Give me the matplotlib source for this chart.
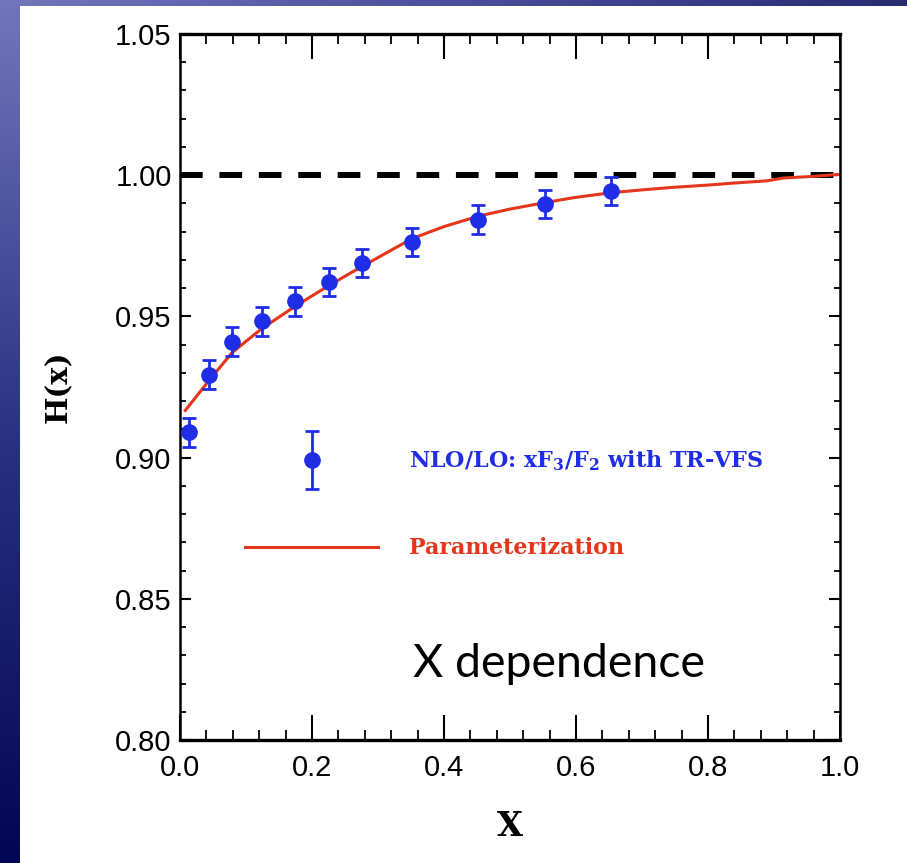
import matplotlib
matplotlib.use("Agg")
import matplotlib.pyplot as plt
import numpy as np
from matplotlib import font_manager
from matplotlib.colors import LinearSegmentedColormap
from matplotlib.container import ErrorbarContainer
from matplotlib.legend_handler import HandlerErrorbar
from matplotlib.lines import Line2D

# data
x_pts = [0.014, 0.044, 0.079, 0.124, 0.174, 0.226, 0.276, 0.351, 0.452, 0.553, 0.653]
h_pts = [0.9089, 0.9294, 0.9411, 0.9482, 0.9553, 0.9621, 0.9688, 0.9763, 0.9843, 0.9897, 0.9943]
h_err = [0.005, 0.005, 0.005, 0.005, 0.005, 0.005, 0.005, 0.005, 0.005, 0.005, 0.005]

x_par = [0.008, 0.044, 0.079, 0.124, 0.174, 0.226, 0.276, 0.351, 0.40, 0.452, 0.50,
         0.553, 0.598, 0.653, 0.70, 0.747, 0.80, 0.838, 0.889, 0.914, 0.96, 1.0]
h_par = [0.9167, 0.9273, 0.9372, 0.9457, 0.9535, 0.961, 0.9677, 0.9775, 0.9818, 0.9855, 0.988,
         0.9903, 0.9921, 0.9938, 0.9948, 0.9957, 0.9965, 0.9972, 0.998, 0.999, 0.9996, 1.0003]

x_ticks = [0.0, 0.2, 0.4, 0.6, 0.8, 1.0]
y_ticks = [0.80, 0.85, 0.90, 0.95, 1.00, 1.05]

BLUE = "#1f2de6"
RED = "#e5361c"

names = {f.name for f in font_manager.fontManager.ttflist}
tick_family = ["Liberation Sans Narrow"] if "Liberation Sans Narrow" in names else ["Liberation Sans"]
tick_size = 24 if "Liberation Sans Narrow" in names else 21

W, H = 907, 863
fig = plt.figure(figsize=(W / 100, H / 100), dpi=100)
fig.patch.set_facecolor("white")

# slide background strips
left_cmap = LinearSegmentedColormap.from_list("l", ["#7276bb", "#2b3283", "#020552"])
top_cmap = LinearSegmentedColormap.from_list("t", ["#7276bb", "#4a4f9c", "#262c70"])
grad = np.linspace(0, 1, 256)
axl = fig.add_axes([0, 0, 20 / W, 1])
axl.imshow(grad[:, None], aspect="auto", cmap=left_cmap)
axl.set_axis_off()
axt = fig.add_axes([0, 1 - 6 / H, 1, 6 / H])
axt.imshow(grad[None, :], aspect="auto", cmap=top_cmap)
axt.set_axis_off()

ax = fig.add_axes([180 / W, 1 - 740 / H, 660 / W, 706 / H])

ax.axhline(1.0, color="black", lw=4.3, dashes=(3.8, 2.8), zorder=1)
ax.plot(x_par, h_par, color=RED, lw=2.2, zorder=2, label="Parameterization")
eb = ax.errorbar(x_pts, h_pts, yerr=h_err, fmt="o", color=BLUE, ms=11, capsize=5,
                 elinewidth=2, capthick=2, zorder=3,
                 label=r"NLO/LO: xF$_\mathbf{3}$/F$_\mathbf{2}$ with TR-VFS")

ax.set_xlim(0, 1.0)
ax.set_ylim(0.80, 1.05)
ax.set_xticks(x_ticks)
ax.set_yticks(y_ticks)
ax.set_xticks(np.arange(0, 1.0001, 0.04), minor=True)
ax.set_yticks(np.arange(0.80, 1.0501, 0.01), minor=True)
ax.set_xticklabels([f"{v:.1f}" for v in x_ticks], family=tick_family, fontsize=tick_size)
ax.set_yticklabels([f"{v:.2f}" for v in y_ticks], family=tick_family, fontsize=tick_size)
ax.tick_params(axis="both", which="both", direction="in", top=True, right=True, color="black")
ax.tick_params(axis="x", which="major", length=18, width=1.5, pad=10)
ax.tick_params(axis="x", which="minor", length=7, width=1.3)
ax.tick_params(axis="y", which="major", length=8, width=1.5, pad=6)
ax.tick_params(axis="y", which="minor", length=4, width=1.3)
for s in ["top", "bottom"]:
    ax.spines[s].set_linewidth(2.4)
for s in ["left", "right"]:
    ax.spines[s].set_linewidth(1.8)

ax.set_xlabel("X", family="DejaVu Serif", fontweight="bold", fontsize=24, labelpad=20)
ax.set_ylabel("H(x)", family="DejaVu Serif", fontweight="bold", fontsize=21, labelpad=30)

plt.rcParams["mathtext.fontset"] = "dejavuserif"
line_handle = Line2D([], [], color=RED, lw=2.2)
leg = ax.legend([eb, line_handle], [eb.get_label(), "Parameterization"],
                loc="upper left", bbox_to_anchor=(0.0985, 0.413), frameon=False,
                borderpad=0, borderaxespad=0, handlelength=6.0, handletextpad=1.4,
                labelspacing=2.9, prop={"family": "DejaVu Serif", "weight": "bold", "size": 16},
                handler_map={ErrorbarContainer: HandlerErrorbar(yerr_size=1.3)})
for txt, col in zip(leg.get_texts(), [BLUE, RED]):
    txt.set_color(col)

ax.text(0.353, 0.089, "X dependence", transform=ax.transAxes, family="Lato",
        fontsize=33.5, va="baseline", ha="left", color="black")

fig.savefig("out.png", dpi=100, facecolor="white")
